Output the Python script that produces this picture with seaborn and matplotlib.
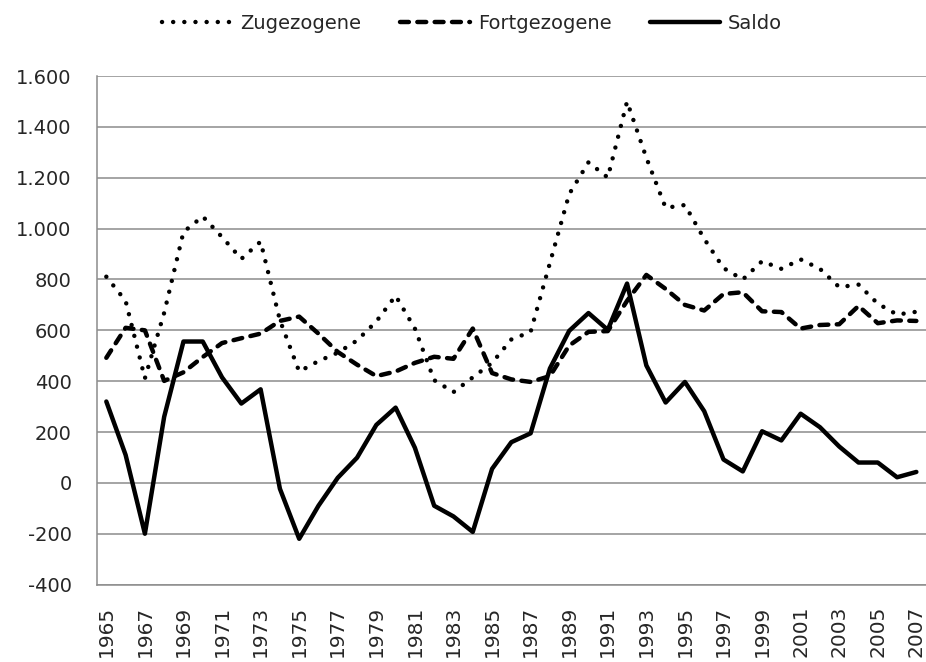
import numpy as np
import pandas as pd
import matplotlib
matplotlib.use("Agg")
import matplotlib.pyplot as plt
import seaborn as sns
from matplotlib.ticker import FixedLocator, FuncFormatter

# data
years = list(range(1965, 2008))
zugezogene = [811, 716, 411, 669, 987, 1048, 967, 881, 949, 640,
              438, 479, 512, 560, 635, 736, 607, 404, 357, 415,
              472, 564, 594, 865, 1136, 1261, 1201, 1500, 1279, 1082,
              1093, 960, 845, 800, 872, 842, 879, 842, 770, 780,
              705, 662, 673]
fortgezogene = [492, 610, 600, 401, 435, 495, 550, 569, 587, 637,
                654, 587, 515, 465, 420, 438, 472, 496, 488, 607,
                432, 407, 397, 420, 540, 594, 597, 716, 818, 763,
                700, 678, 743, 750, 675, 672, 607, 621, 624, 696,
                628, 639, 637]
saldo = [320, 110, -200, 260, 556, 556, 415, 312, 368, -23,
         -220, -90, 20, 99, 228, 296, 138, -90, -132, -193,
         55, 160, 195, 450, 598, 668, 602, 784, 462, 316,
         397, 282, 92, 45, 203, 167, 272, 219, 143, 80,
         80, 22, 43]

df = pd.DataFrame({"Jahr": years, "Zugezogene": zugezogene,
                   "Fortgezogene": fortgezogene, "Saldo": saldo})

sns.set_style("white")
plt.rcParams["font.family"] = ["DejaVu Sans"]

fig = plt.figure(figsize=(9.26, 6.62), dpi=100)
ax = fig.add_axes([0.1044, 0.117, 0.8956, 0.768])

lw = 3.2
sns.lineplot(data=df, x="Jahr", y="Zugezogene", ax=ax, color="black", lw=lw,
             linestyle=(0, (0.01, 2.5)), dash_capstyle="round", label="Zugezogene")
sns.lineplot(data=df, x="Jahr", y="Fortgezogene", ax=ax, color="black", lw=lw,
             linestyle=(0, (2.0, 1.9)), dash_capstyle="round", label="Fortgezogene")
sns.lineplot(data=df, x="Jahr", y="Saldo", ax=ax, color="black", lw=lw,
             solid_capstyle="round", label="Saldo")

grey = "#8c8c8c"
ax.set_ylim(-400, 1600)
ax.set_yticks(np.arange(-400, 1601, 200))
ax.yaxis.set_major_formatter(FuncFormatter(lambda v, p: f"{int(v):,}".replace(",", ".")))
ax.grid(axis="y", color=grey, lw=1.1)
ax.set_axisbelow(True)

ax.set_xlim(1964.5, 2007.5)
ax.set_xticks(years[::2])
ax.set_xticklabels([str(y) for y in years[::2]], rotation=90)
ax.xaxis.set_minor_locator(FixedLocator(np.arange(1964.5, 2008, 1)))
ax.tick_params(axis="x", which="major", length=0, pad=15, labelsize=14.5)
ax.tick_params(axis="x", which="minor", length=5, width=1.1, color=grey, direction="out")
ax.tick_params(axis="y", length=6, width=1.1, color=grey, direction="out", pad=12, labelsize=14)

ax.set_xlabel("")
ax.set_ylabel("")
for s in ["top", "right"]:
    ax.spines[s].set_visible(False)
for s in ["left", "bottom"]:
    ax.spines[s].set_color(grey)
    ax.spines[s].set_linewidth(1.1)

ax.legend(loc="center", bbox_to_anchor=(0.51, 0.965), bbox_transform=fig.transFigure,
          ncol=3, frameon=False, fontsize=14, handlelength=3.6, handletextpad=0.4,
          columnspacing=2.0, borderpad=0)

fig.savefig("out.png", dpi=100)
